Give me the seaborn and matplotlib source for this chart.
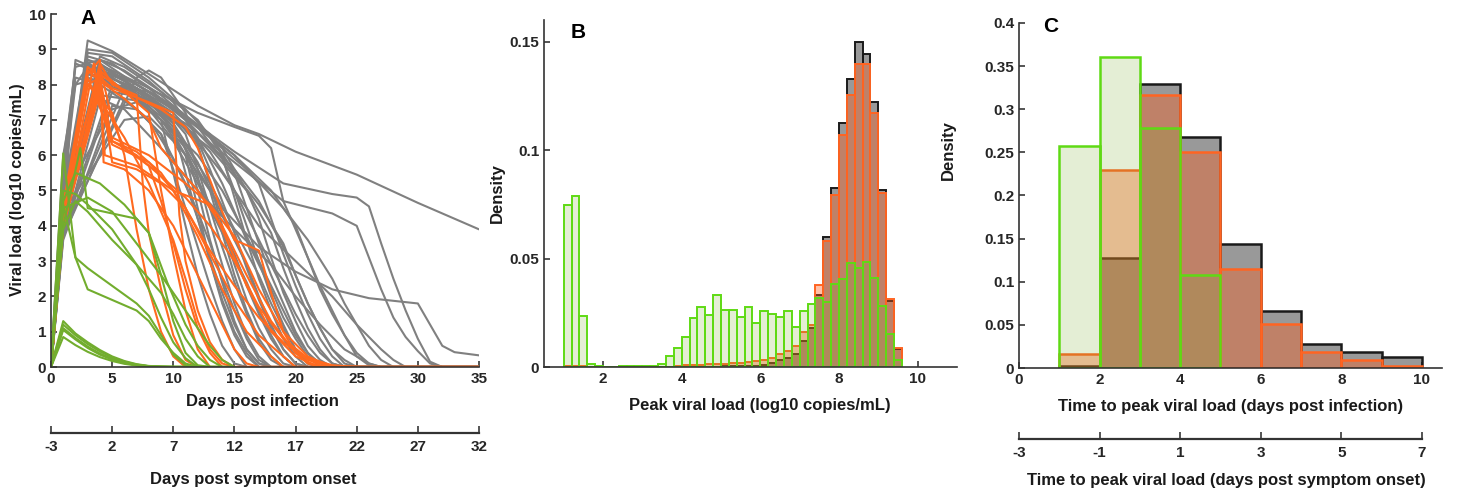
import numpy as np
import pandas as pd
import matplotlib
matplotlib.use("Agg")
import matplotlib.pyplot as plt
import seaborn as sns

# ---------------- Panel A: viral load trajectories (day, log10 copies/mL) ----------------
gray_trajectories = [
    [(0, 0), (1, 4.0), (3, 9.25), (5, 8.95), (8, 8.3), (12, 7.4), (15, 6.85), (17, 6.6), (20, 6.1), (25, 5.45), (30, 4.65), (35, 3.9)],
    [(0, 0), (1, 4.3), (3, 8.6), (4, 8.7), (7, 8.0), (11, 7.1), (15, 6.1), (19, 5.2), (23, 4.9), (25, 4.8), (26, 4.55), (27, 3.5), (28, 2.5), (29, 1.6), (30, 0.8), (31, 0.15), (32, 0), (35, 0)],
    [(0, 0), (1, 3.9), (4, 8.2), (7, 7.7), (11, 6.9), (15, 5.8), (19, 4.7), (23, 4.35), (25, 4.0), (26, 3.1), (27, 2.2), (28, 1.4), (29, 0.85), (30, 0.45), (31, 0.1), (32, 0), (35, 0)],
    [(0, 0), (1, 4.5), (3, 8.5), (5, 8.1), (8, 7.3), (11, 6.0), (14, 4.5), (17, 3.4), (20, 2.7), (23, 2.2), (26, 1.95), (30, 1.8), (31, 1.2), (32, 0.6), (33, 0.42), (35, 0.33)],
    [(0, 0), (1, 4.6), (3, 8.7), (5, 8.4), (8, 7.9), (12, 7.2), (15, 6.8), (17, 6.55), (18, 6.2), (19, 4.7), (20, 3.9), (21, 3.1), (22, 2.3), (23, 1.6), (24, 0.9), (25, 0.3), (26, 0.05), (27, 0), (35, 0)],
    [(0, 0), (1, 4.0), (4, 8.4), (6, 8.2), (9, 7.6), (13, 6.5), (16, 5.6), (19, 4.5), (21, 3.6), (23, 2.5), (24, 1.8), (25, 1.2), (26, 0.6), (27, 0.2), (28, 0), (35, 0)],
    [(0, 0), (1, 3.8), (5, 7.8), (8, 7.6), (11, 6.8), (14, 5.5), (17, 4.0), (20, 3.0), (23, 2.0), (25, 1.2), (27, 0.5), (28, 0.2), (29, 0), (35, 0)],
    [(0, 0), (1, 5.0), (2, 8.0), (3, 8.5), (6, 8.0), (9, 7.2), (11, 6.0), (12, 4.5), (13, 3.0), (14, 1.8), (15, 0.9), (16, 0.3), (17, 0), (35, 0)],
    [(0, 0), (1, 4.2), (3, 8.7), (4, 8.6), (7, 7.9), (10, 6.8), (13, 5.0), (14, 3.8), (15, 2.6), (16, 1.6), (17, 0.8), (18, 0.3), (19, 0), (35, 0)],
    [(0, 0), (1, 5.5), (2, 8.6), (4, 8.3), (7, 7.6), (9, 7.0), (10, 5.5), (11, 4.0), (12, 2.6), (13, 1.5), (14, 0.6), (15, 0.1), (16, 0), (35, 0)],
    [(0, 0), (1, 4.0), (4, 8.8), (6, 8.5), (9, 7.8), (12, 7.0), (14, 6.0), (15, 4.8), (16, 3.6), (17, 2.5), (18, 1.6), (19, 0.8), (20, 0.3), (21, 0), (35, 0)],
    [(0, 0), (1, 3.8), (7, 8.2), (8, 8.4), (9, 8.2), (11, 7.2), (13, 5.6), (15, 3.8), (16, 2.8), (17, 1.9), (18, 1.1), (19, 0.5), (20, 0.1), (21, 0), (35, 0)],
    [(0, 0), (1, 4.4), (3, 8.9), (5, 8.8), (8, 8.1), (10, 7.5), (12, 6.5), (14, 5.2), (16, 3.6), (18, 2.2), (19, 1.4), (20, 0.8), (21, 0.3), (22, 0), (35, 0)],
    [(0, 0), (1, 6.0), (2, 8.0), (4, 8.2), (7, 7.7), (10, 7.0), (13, 6.2), (16, 5.0), (18, 3.8), (19, 2.8), (20, 1.9), (21, 1.1), (22, 0.5), (23, 0.1), (24, 0), (35, 0)],
    [(0, 0), (1, 4.8), (3, 8.3), (5, 8.0), (8, 7.4), (11, 6.2), (12, 5.0), (13, 3.6), (14, 2.4), (15, 1.3), (16, 0.5), (17, 0.1), (18, 0), (35, 0)],
    [(0, 0), (1, 3.7), (6, 7.6), (8, 7.5), (10, 6.9), (12, 5.8), (14, 4.3), (16, 2.9), (17, 2.0), (18, 1.2), (19, 0.5), (20, 0.1), (21, 0), (35, 0)],
    [(0, 0), (1, 4.1), (3, 9.0), (5, 8.9), (8, 8.2), (11, 7.3), (14, 6.2), (16, 5.0), (17, 4.2), (18, 3.1), (19, 2.1), (20, 1.3), (21, 0.6), (22, 0.2), (23, 0), (35, 0)],
    [(0, 0), (1, 5.2), (2, 8.2), (4, 8.0), (7, 7.3), (9, 6.6), (10, 5.6), (11, 4.5), (12, 3.4), (13, 2.3), (14, 1.3), (15, 0.5), (16, 0), (35, 0)],
    [(0, 0), (1, 4.5), (4, 8.7), (6, 8.4), (9, 7.7), (12, 6.8), (14, 5.9), (15, 5.0), (16, 4.0), (17, 3.0), (18, 2.0), (19, 1.2), (20, 0.5), (21, 0.1), (22, 0), (35, 0)],
    [(0, 0), (1, 3.9), (5, 8.0), (7, 7.9), (10, 7.2), (13, 6.1), (15, 5.0), (17, 3.6), (19, 2.2), (20, 1.5), (21, 0.9), (22, 0.4), (23, 0.1), (24, 0), (35, 0)],
    [(0, 0), (1, 4.7), (3, 8.6), (6, 8.1), (9, 7.4), (11, 6.6), (12, 5.6), (13, 4.5), (14, 3.4), (15, 2.4), (16, 1.5), (17, 0.7), (18, 0.2), (19, 0), (35, 0)],
    [(0, 0), (1, 4.3), (4, 8.5), (7, 8.0), (10, 7.4), (13, 6.6), (15, 5.5), (16, 4.5), (17, 3.5), (18, 2.6), (19, 1.8), (20, 1.0), (21, 0.4), (22, 0.1), (23, 0), (35, 0)],
    [(0, 0), (1, 5.8), (2, 8.5), (3, 8.6), (5, 8.2), (8, 7.5), (10, 6.8), (11, 5.5), (12, 4.2), (13, 3.0), (14, 1.9), (15, 1.0), (16, 0.4), (17, 0), (35, 0)],
    [(0, 0), (1, 4.0), (4, 8.1), (6, 7.9), (9, 7.1), (11, 6.3), (13, 5.2), (15, 3.9), (17, 2.6), (18, 1.8), (19, 1.1), (20, 0.5), (21, 0.1), (22, 0), (35, 0)],
    [(0, 0), (1, 4.9), (3, 8.8), (5, 8.6), (8, 7.9), (11, 7.0), (13, 6.3), (15, 5.6), (17, 4.7), (19, 3.4), (20, 2.6), (21, 1.8), (22, 1.1), (23, 0.5), (24, 0.2), (25, 0), (35, 0)],
    [(0, 0), (1, 3.6), (5, 7.4), (7, 7.3), (9, 6.6), (11, 5.2), (12, 4.2), (13, 3.1), (14, 2.1), (15, 1.2), (16, 0.5), (17, 0.1), (18, 0), (35, 0)],
    [(0, 0), (1, 4.6), (3, 8.2), (6, 7.8), (9, 7.0), (12, 6.0), (14, 5.0), (16, 3.7), (18, 2.3), (19, 1.6), (20, 0.9), (21, 0.4), (22, 0), (35, 0)],
    [(0, 0), (1, 4.2), (2, 8.7), (4, 8.4), (7, 7.8), (10, 7.1), (12, 6.3), (13, 5.2), (14, 4.0), (15, 2.9), (16, 1.9), (17, 1.1), (18, 0.5), (19, 0.1), (20, 0), (35, 0)],
    [(0, 0), (1, 3.8), (6, 7.9), (8, 7.8), (11, 7.0), (14, 5.9), (17, 4.6), (19, 3.5), (20, 2.6), (21, 1.8), (22, 1.1), (23, 0.5), (24, 0.1), (25, 0), (35, 0)],
    [(0, 0), (1, 5.0), (3, 8.4), (5, 8.3), (8, 7.7), (10, 6.9), (12, 5.4), (13, 4.1), (14, 2.9), (15, 1.8), (16, 0.9), (17, 0.3), (18, 0), (35, 0)],
    [(0, 0), (1, 4.4), (4, 8.3), (7, 7.9), (11, 7.1), (15, 6.0), (18, 5.0), (20, 4.0), (21, 3.1), (22, 2.2), (23, 1.5), (24, 0.9), (25, 0.4), (26, 0.1), (27, 0), (35, 0)],
    [(0, 0), (1, 4.0), (3, 8.3), (6, 8.2), (9, 7.6), (12, 6.8), (15, 6.0), (17, 5.2), (18, 4.2), (19, 3.2), (20, 2.3), (21, 1.5), (22, 0.8), (23, 0.3), (24, 0), (35, 0)],
    [(0, 0), (1, 3.7), (4, 7.6), (6, 7.3), (9, 6.2), (12, 5.0), (15, 3.9), (18, 2.9), (20, 2.0), (22, 1.2), (24, 0.5), (26, 0.1), (27, 0), (35, 0)],
    [(0, 0), (1, 4.8), (5, 7.3), (7, 7.5), (9, 7.0), (11, 6.0), (13, 4.6), (15, 3.2), (16, 2.3), (17, 1.5), (18, 0.8), (19, 0.3), (20, 0), (35, 0)],
    [(0, 0), (1, 4.4), (6, 7.0), (8, 7.1), (10, 6.4), (12, 5.2), (14, 3.8), (16, 2.4), (17, 1.6), (18, 0.9), (19, 0.3), (20, 0), (35, 0)],
    [(0, 0), (1, 5.2), (4, 7.7), (6, 7.6), (8, 7.0), (10, 5.9), (12, 4.4), (13, 3.5), (14, 2.5), (15, 1.6), (16, 0.8), (17, 0.2), (18, 0), (35, 0)],
]

orange_trajectories = [
    [(0, 0), (1, 4.2), (3, 8.3), (4, 8.7), (4.3, 5.8), (6, 5.6), (8, 5.0), (10, 4.0), (12, 2.6), (14, 1.2), (15, 0.5), (16, 0.1), (17, 0), (35, 0)],
    [(0, 0), (1, 4.5), (3, 8.0), (4, 8.2), (5, 6.4), (7, 6.1), (9, 5.5), (11, 4.5), (13, 3.2), (15, 1.9), (17, 0.9), (19, 0.3), (20, 0), (35, 0)],
    [(0, 0), (1, 4.0), (3.5, 8.6), (4, 7.4), (5, 6.3), (8, 5.8), (10, 5.0), (12, 3.7), (14, 2.2), (16, 1.0), (18, 0.3), (19, 0), (35, 0)],
    [(0, 0), (1, 4.3), (4, 8.6), (5, 8.0), (7, 7.7), (7.5, 5.2), (8, 3.8), (9, 2.2), (10, 0.9), (11, 0.2), (12, 0), (35, 0)],
    [(0, 0), (1, 4.1), (4, 8.3), (6, 7.8), (8, 7.2), (9, 5.0), (10, 3.2), (11, 1.6), (12, 0.5), (13, 0), (35, 0)],
    [(0, 0), (1, 4.6), (3, 8.5), (5, 7.9), (8, 7.5), (10, 7.2), (10.5, 4.3), (11, 3.0), (12, 1.6), (13, 0.7), (14, 0.2), (15, 0), (35, 0)],
    [(0, 0), (1, 4.0), (4, 8.0), (4.4, 6.0), (7, 5.7), (10, 5.0), (13, 4.6), (15, 3.7), (17, 2.2), (19, 1.0), (21, 0.3), (23, 0), (35, 0)],
    [(0, 0), (1, 4.4), (3, 8.2), (5, 6.5), (8, 6.0), (11, 5.2), (13, 4.6), (14, 3.9), (16, 2.3), (18, 1.0), (20, 0.3), (22, 0), (35, 0)],
    [(0, 0), (1, 4.2), (3, 8.4), (4, 8.1), (6, 7.6), (8, 7.0), (9, 6.2), (12, 5.0), (14, 4.0), (16, 2.6), (18, 1.3), (20, 0.4), (22, 0.05), (24, 0), (35, 0)],
    [(0, 0), (1, 4.5), (4, 8.5), (5, 7.0), (6, 6.2), (8, 5.7), (9, 4.7), (10, 3.5), (11, 2.2), (12, 1.1), (13, 0.4), (14, 0), (35, 0)],
    [(0, 0), (1, 4.0), (4, 7.8), (5, 6.4), (7, 6.0), (9, 5.4), (11, 4.8), (13, 4.0), (15, 3.0), (17, 1.7), (19, 0.8), (21, 0.25), (23, 0.05), (25, 0), (35, 0)],
    [(0, 0), (1, 4.3), (3, 8.0), (4, 7.6), (5, 7.2), (6, 6.0), (7, 3.9), (8, 2.2), (9, 1.0), (10, 0.3), (11, 0), (35, 0)],
    [(0, 0), (1, 4.6), (4, 8.4), (6, 7.8), (9, 7.3), (11, 6.8), (12, 6.2), (13, 5.3), (14, 4.4), (15, 3.6), (17, 3.3), (18, 2.1), (19, 1.0), (20, 0.4), (21, 0.1), (22, 0), (35, 0)],
    [(0, 0), (1, 4.2), (4, 8.1), (5, 5.8), (7, 5.6), (9, 5.2), (11, 4.5), (13, 3.3), (15, 2.3), (17, 1.4), (19, 0.7), (21, 0.2), (23, 0.02), (26, 0), (35, 0)],
    [(0, 0), (1, 4.1), (4, 7.9), (4.5, 7.3), (6, 6.5), (8, 5.2), (10, 3.6), (11, 2.5), (12, 1.3), (13, 0.5), (14, 0.1), (15, 0), (35, 0)],
]

green_trajectories = [
    [(0, 0), (1, 1.3), (2, 0.95), (3, 0.7), (4, 0.48), (5, 0.3), (6, 0.17), (7, 0.08), (8, 0.03), (10, 0), (15, 0)],
    [(0, 0), (1, 1.2), (2, 0.9), (3, 0.65), (4, 0.44), (5, 0.27), (6, 0.15), (7, 0.07), (8, 0.02), (10, 0), (15, 0)],
    [(0, 0), (1, 1.1), (2, 0.82), (3, 0.58), (4, 0.38), (5, 0.23), (6, 0.12), (7, 0.05), (9, 0), (15, 0)],
    [(0, 0), (1, 0.85), (2, 0.62), (3, 0.43), (4, 0.28), (5, 0.17), (6, 0.09), (7, 0.04), (9, 0), (15, 0)],
    [(0, 0), (1, 1.05), (2, 0.78), (3, 0.54), (4, 0.35), (5, 0.21), (6, 0.11), (8, 0.02), (15, 0)],
    [(0, 0), (1, 6.05), (2, 3.1), (3, 2.2), (5, 1.9), (7, 1.6), (8, 1.3), (9, 0.8), (10, 0.4), (11, 0.1), (12, 0), (15, 0)],
    [(0, 0), (1, 4.0), (2.4, 6.2), (3, 4.5), (5, 4.35), (7, 4.2), (8, 3.8), (9, 2.6), (10, 1.3), (11, 0.4), (12, 0.05), (13, 0), (15, 0)],
    [(0, 0), (1, 4.7), (2, 5.5), (4, 5.2), (6, 4.6), (8, 3.8), (9.5, 2.4), (11, 1.2), (12, 0.6), (13, 0.2), (14, 0), (15, 0)],
    [(0, 0), (1, 4.5), (3, 4.8), (5, 4.4), (7, 3.5), (9, 2.6), (11, 1.6), (12, 1.1), (13, 0.6), (14, 0.2), (15, 0)],
    [(0, 0), (1, 3.9), (2, 4.7), (3, 4.4), (5, 3.6), (7, 2.9), (9, 2.1), (10, 1.5), (11, 0.8), (12, 0.3), (13, 0), (15, 0)],
    [(0, 0), (1, 4.6), (2, 3.1), (3, 2.8), (5, 2.3), (7, 1.8), (8, 1.45), (9, 0.9), (10, 0.35), (11, 0.05), (12, 0), (15, 0)],
    [(0, 0), (1, 5.0), (2, 4.9), (3, 4.6), (5, 3.9), (7, 2.9), (8, 2.2), (9, 1.4), (10, 0.7), (11, 0.25), (12, 0), (15, 0)],
]

# ---------------- Panel B: peak viral load histogram (bin width 0.2, from 1.0 to 9.6) ----------------
peak_bin_start, peak_bin_stop, peak_bin_width = 1.0, 9.6, 0.2
peak_all = [0, 0, 0, 0, 0, 0, 0, 0, 0, 0, 0, 0, 0, 0, 0,
            0.0002, 0.0002, 0.0002, 0.0002, 0.0002,
            0.0005, 0.0005, 0.0005, 0.0005, 0.0005,
            0.001, 0.0018, 0.003, 0.004, 0.006, 0.012, 0.018, 0.033,
            0.0599, 0.0826, 0.1124, 0.1327, 0.1499, 0.1442, 0.1222, 0.0818, 0.0305, 0.0085]
peak_orange = [0.0004, 0.0004, 0.0004, 0.0002, 0, 0, 0, 0, 0, 0, 0, 0, 0, 0, 0.0004,
               0.0007, 0.0009, 0.0011, 0.0012, 0.0014,
               0.0016, 0.0017, 0.002, 0.0023, 0.0028,
               0.003, 0.004, 0.006, 0.0075, 0.0095, 0.0163, 0.0195, 0.0378,
               0.058, 0.0792, 0.1072, 0.1254, 0.1399, 0.1399, 0.1173, 0.0803, 0.0315, 0.0089]
peak_green = [0.0745, 0.0788, 0.0234, 0.0012, 0.0003, 0, 0, 0.0003, 0.0003, 0.0003, 0.0003, 0.0003,
              0.0015, 0.0051, 0.0088, 0.0138, 0.0227, 0.0275, 0.0238, 0.0332,
              0.0261, 0.0264, 0.0231, 0.0277, 0.0204, 0.0257, 0.0246, 0.0231, 0.0258, 0.0184,
              0.0258, 0.0289, 0.0319, 0.0301, 0.0381, 0.0407, 0.0478, 0.0458, 0.0485, 0.0411,
              0.0281, 0.0154, 0.0034]

# ---------------- Panel C: time to peak histogram (bin width 1 day) ----------------
ttp_edges = [1, 2, 3, 4, 5, 6, 7, 8, 9, 10]
ttp_all = [0.002, 0.127, 0.329, 0.268, 0.144, 0.066, 0.028, 0.0185, 0.0127]
ttp_orange = [0.0166, 0.229, 0.316, 0.250, 0.1146, 0.0513, 0.0189, 0.0089, 0.002]
ttp_green_edges = [1, 2, 3, 4, 5]
ttp_green = [0.257, 0.361, 0.278, 0.108]

# ---------------- axis ticks and labels ----------------
a_xticks = [0, 5, 10, 15, 20, 25, 30, 35]
a_yticks = list(range(0, 11))
onset_ticks_a = [-3, 2, 7, 12, 17, 22, 27, 32]
b_xticks = [2, 4, 6, 8, 10]
b_yticks = [0, 0.05, 0.1, 0.15]
b_yticklabels = ["0", "0.05", "0.1", "0.15"]
c_xticks = [0, 2, 4, 6, 8, 10]
c_yticks = [0, 0.05, 0.1, 0.15, 0.2, 0.25, 0.3, 0.35, 0.4]
c_yticklabels = ["0", "0.05", "0.1", "0.15", "0.2", "0.25", "0.3", "0.35", "0.4"]
onset_ticks_c = [-3, -1, 1, 3, 5, 7]

# ---------------- style ----------------
sns.set_theme(style="ticks")
plt.rcParams["font.family"] = ["Liberation Sans", "DejaVu Sans"]
plt.rcParams.update({
    "font.weight": "bold",
    "axes.edgecolor": "#333333",
    "axes.linewidth": 1.2,
    "xtick.direction": "in",
    "ytick.direction": "in",
    "xtick.major.size": 4,
    "ytick.major.size": 4,
    "xtick.major.width": 1.1,
    "ytick.major.width": 1.1,
    "xtick.color": "#262626",
    "ytick.color": "#262626",
    "xtick.labelsize": 11,
    "ytick.labelsize": 11,
})

GRAY_LINE = "#808080"
ORANGE_LINE = "#FF6A1F"
GREEN_LINE = "#72AD2E"

ALL_FACE = (0.0, 0.0, 0.0, 0.40)
ALL_EDGE = "#1A1A1A"
ORANGE_FACE = (1.0, 0.36, 0.10, 0.38)
ORANGE_EDGE = "#FF6422"
GREEN_FACE = (0.47, 0.67, 0.19, 0.20)
GREEN_EDGE = "#5FDA14"

W, H = 1457, 490
fig = plt.figure(figsize=(W / 100, H / 100), dpi=100)


def fx(px):
    return px / W


def fy(py):
    return 1 - py / H


def axes_box(left, top, right, bottom):
    return [fx(left), fy(bottom), fx(right) - fx(left), fy(top) - fy(bottom)]


def style_axes(ax):
    sns.despine(ax=ax)
    for lab in ax.get_xticklabels() + ax.get_yticklabels():
        lab.set_fontweight("bold")


def onset_axis(left, right, y, xlim, ticks):
    sec = fig.add_axes([fx(left), fy(y), fx(right) - fx(left), 0.0001])
    sec.set_xlim(*xlim)
    sec.set_yticks([])
    for side in ("left", "right", "top"):
        sec.spines[side].set_visible(False)
    sec.spines["bottom"].set_linewidth(1.6)
    sec.set_xticks(ticks)
    sec.set_xticklabels([str(t) for t in ticks], fontweight="bold")
    sec.tick_params(axis="x", direction="in", length=5, width=1.1, pad=5)
    sec.set_facecolor("none")
    return sec


# ---------------- Panel A ----------------
rows = []
for group, trajs in (("all", gray_trajectories), ("orange", orange_trajectories), ("green", green_trajectories)):
    for k, traj in enumerate(trajs):
        for day, load in traj:
            rows.append({"group": group, "line": f"{group}{k}", "day": day, "load": load})
traj_df = pd.DataFrame(rows)

axA = fig.add_axes(axes_box(51, 14, 479, 367))
sns.lineplot(data=traj_df, x="day", y="load", hue="group", units="line", estimator=None,
             hue_order=["all", "orange", "green"],
             palette={"all": GRAY_LINE, "orange": ORANGE_LINE, "green": GREEN_LINE},
             sort=False, linewidth=1.5, legend=False, ax=axA)
axA.set_xlim(0, 35)
axA.set_ylim(0, 10)
axA.set_xticks(a_xticks)
axA.set_yticks(a_yticks)
axA.set_xlabel("")
axA.set_ylabel("")
style_axes(axA)

# ---------------- Panel B ----------------
peak_edges = np.round(np.arange(peak_bin_start, peak_bin_stop + peak_bin_width / 2, peak_bin_width), 2)
peak_centers = np.round(peak_edges[:-1] + peak_bin_width / 2, 2)
peak_edges = peak_edges.tolist()

axB = fig.add_axes(axes_box(544, 20, 957, 367))
for vals, face, edge in ((peak_all, ALL_FACE, ALL_EDGE),
                         (peak_orange, ORANGE_FACE, ORANGE_EDGE),
                         (peak_green, GREEN_FACE, GREEN_EDGE)):
    sns.histplot(data=pd.DataFrame({"v": peak_centers, "w": vals}), x="v", weights="w",
                 bins=peak_edges, stat="count", element="bars",
                 fill=True, facecolor=face, edgecolor=edge, linewidth=1.4, ax=axB)
axB.set_xlim(0.5, 11)
axB.set_ylim(0, 0.16)
axB.set_xticks(b_xticks)
axB.set_yticks(b_yticks)
axB.set_yticklabels(b_yticklabels)
axB.set_xlabel("")
axB.set_ylabel("")
style_axes(axB)

# ---------------- Panel C ----------------
ttp_centers = (np.array(ttp_edges[:-1]) + 0.5).tolist()
ttp_green_centers = (np.array(ttp_green_edges[:-1]) + 0.5).tolist()

axC = fig.add_axes(axes_box(1019, 23, 1442, 368))
for cen, edges_, vals, face, edge in ((ttp_centers, ttp_edges, ttp_all, ALL_FACE, ALL_EDGE),
                                      (ttp_centers, ttp_edges, ttp_orange, ORANGE_FACE, ORANGE_EDGE),
                                      (ttp_green_centers, ttp_green_edges, ttp_green, GREEN_FACE, GREEN_EDGE)):
    sns.histplot(data=pd.DataFrame({"t": cen, "w": vals}), x="t", weights="w",
                 bins=edges_, stat="count", element="bars",
                 fill=True, facecolor=face, edgecolor=edge, linewidth=1.8, ax=axC)
axC.set_xlim(0, 10.5)
axC.set_ylim(0, 0.4)
axC.set_xticks(c_xticks)
axC.set_yticks(c_yticks)
axC.set_yticklabels(c_yticklabels)
axC.set_xlabel("")
axC.set_ylabel("")
style_axes(axC)

# ---------------- secondary "days post symptom onset" axes ----------------
onset_axis(51, 479, 433, (-3, 32), onset_ticks_a)
onset_axis(1019, 1422, 439, (-3, 7), onset_ticks_c)

# ---------------- labels ----------------
lab = dict(fontsize=12, fontweight="bold", color="#1a1a1a", ha="center", va="center")
fig.text(fx(18), fy(190), "Viral load (log10 copies/mL)", rotation=90,
         **{**lab, "fontsize": 11.5})
fig.text(fx(262), fy(401), "Days post infection", **lab)
fig.text(fx(253), fy(479), "Days post symptom onset", **lab)
fig.text(fx(497), fy(193), "Density", rotation=90, **lab)
fig.text(fx(760), fy(405), "Peak viral load (log10 copies/mL)", **lab)
fig.text(fx(948), fy(150), "Density", rotation=90, **lab)
fig.text(fx(1231), fy(407), "Time to peak viral load (days post infection)", **lab)
fig.text(fx(1226), fy(480), "Time to peak viral load (days post symptom onset)", **lab)

panel = dict(fontsize=15, fontweight="bold", color="black", ha="center", va="center")
fig.text(fx(88), fy(19), "A", **panel)
fig.text(fx(578), fy(32), "B", **panel)
fig.text(fx(1051), fy(27), "C", **panel)

fig.savefig("out.png", dpi=100)
